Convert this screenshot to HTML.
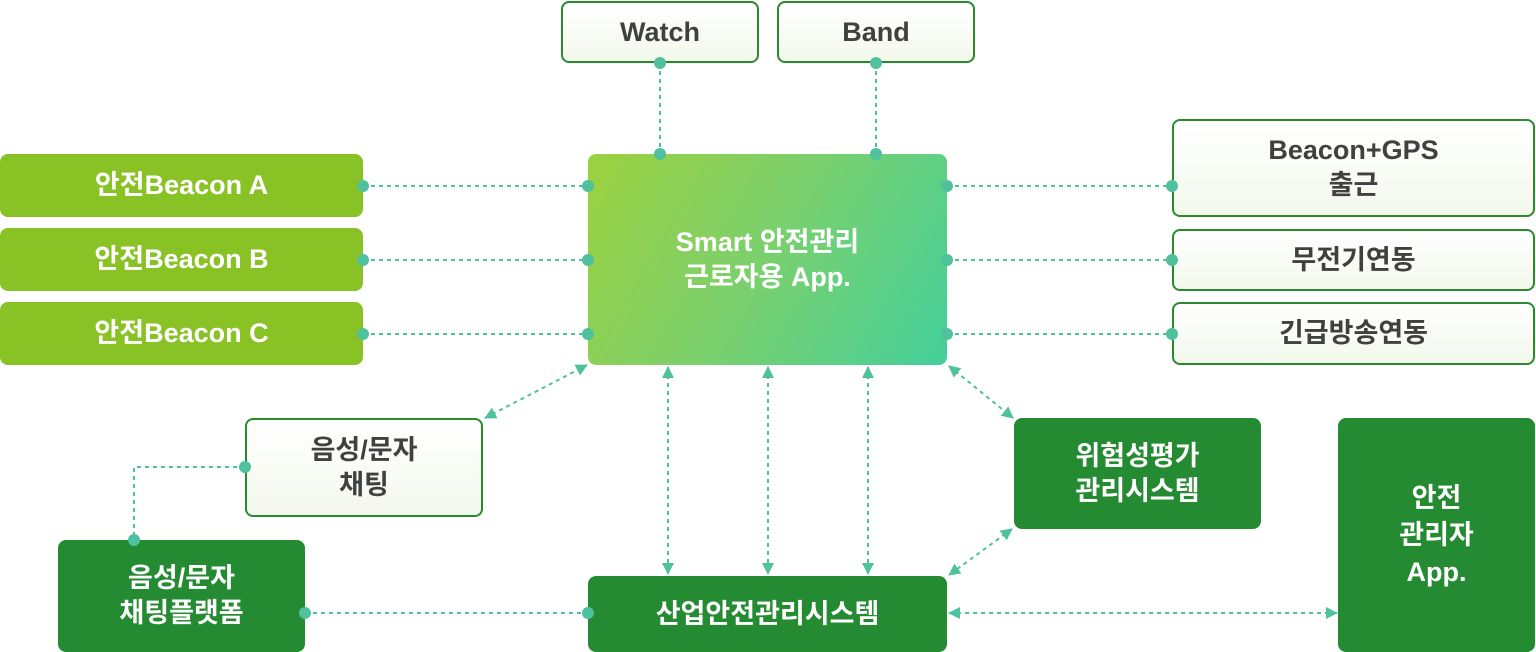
<!DOCTYPE html>
<html><head><meta charset="utf-8"><style>
html,body{margin:0;padding:0;background:#fff;}
body{width:1536px;height:652px;position:relative;overflow:hidden;font-family:"Liberation Sans","Noto Sans CJK KR",sans-serif;font-weight:bold;}
.b{position:absolute;box-sizing:border-box;border-radius:8px;display:flex;align-items:center;justify-content:center;text-align:center;font-size:27px;line-height:35px;}
.lg{background:#89c225;color:#fff;}
.dg{background:#248b32;color:#fff;}
.w{background:linear-gradient(#fff,#f3f8ec);border:2px solid #2a8a2e;color:#404040;}
.c{background:linear-gradient(120deg,#9bd13f,#7ed06a 45%,#44cf9b);color:#fff;}
svg{position:absolute;left:0;top:0;}
</style></head><body>
<svg width="1536" height="652">
<defs>
<marker id="a" markerWidth="12" markerHeight="12" refX="11" refY="6" orient="auto-start-reverse" markerUnits="userSpaceOnUse"><path d="M0,0 L12,6 L0,12Z" fill="#4fc19d"/></marker>
</defs>
<g stroke="#4fc19d" stroke-width="2" stroke-dasharray="4,4" fill="none">
<path d="M660 63V154"/><path d="M876 63V154"/>
<path d="M363 186H588"/><path d="M363 260H588"/><path d="M363 334H588"/>
<path d="M947 186H1172"/><path d="M947 260H1172"/><path d="M947 334H1172"/>
<path d="M245 467H134V540"/>
<path d="M305 613H588"/>
<path d="M668 367V574" marker-start="url(#a)" marker-end="url(#a)"/>
<path d="M768 367V574" marker-start="url(#a)" marker-end="url(#a)"/>
<path d="M868 367V574" marker-start="url(#a)" marker-end="url(#a)"/>
<path d="M485 418L587 365" marker-start="url(#a)" marker-end="url(#a)"/>
<path d="M949 366L1013 418" marker-start="url(#a)" marker-end="url(#a)"/>
<path d="M1012 529L949 575" marker-start="url(#a)" marker-end="url(#a)"/>
<path d="M949 613H1337" marker-start="url(#a)" marker-end="url(#a)"/>
</g>
</svg>
<div class="b w" style="left:561px;top:1px;width:198px;height:62px;">Watch</div>
<div class="b w" style="left:777px;top:1px;width:198px;height:62px;">Band</div>
<div class="b c" style="left:588px;top:154px;width:359px;height:211px;">Smart 안전관리<br>근로자용 App.</div>
<div class="b lg" style="left:0;top:154px;width:363px;height:63px;">안전Beacon A</div>
<div class="b lg" style="left:0;top:228px;width:363px;height:63px;">안전Beacon B</div>
<div class="b lg" style="left:0;top:302px;width:363px;height:63px;">안전Beacon C</div>
<div class="b w" style="left:1172px;top:119px;width:363px;height:98px;">Beacon+GPS<br>출근</div>
<div class="b w" style="left:1172px;top:229px;width:363px;height:62px;">무전기연동</div>
<div class="b w" style="left:1172px;top:302px;width:363px;height:63px;">긴급방송연동</div>
<div class="b w" style="left:245px;top:418px;width:238px;height:99px;">음성/문자<br>채팅</div>
<div class="b dg" style="left:58px;top:540px;width:247px;height:112px;">음성/문자<br>채팅플랫폼</div>
<div class="b dg" style="left:588px;top:576px;width:359px;height:76px;">산업안전관리시스템</div>
<div class="b dg" style="left:1014px;top:418px;width:247px;height:111px;">위험성평가<br>관리시스템</div>
<div class="b dg" style="left:1338px;top:418px;width:197px;height:234px;line-height:37px;">안전<br>관리자<br>App.</div>
<svg width="1536" height="652" style="pointer-events:none">
<g fill="#4fc19d">
<circle cx="660" cy="63" r="6"/><circle cx="660" cy="154" r="6"/>
<circle cx="876" cy="63" r="6"/><circle cx="876" cy="154" r="6"/>
<circle cx="363" cy="186" r="6"/><circle cx="588" cy="186" r="6"/>
<circle cx="363" cy="260" r="6"/><circle cx="588" cy="260" r="6"/>
<circle cx="363" cy="334" r="6"/><circle cx="588" cy="334" r="6"/>
<circle cx="947" cy="186" r="6"/><circle cx="1172" cy="186" r="6"/>
<circle cx="947" cy="260" r="6"/><circle cx="1172" cy="260" r="6"/>
<circle cx="947" cy="334" r="6"/><circle cx="1172" cy="334" r="6"/>
<circle cx="245" cy="467" r="6"/><circle cx="134" cy="540" r="6"/>
<circle cx="305" cy="613" r="6"/><circle cx="588" cy="613" r="6"/>
</g>
</svg>
</body></html>
